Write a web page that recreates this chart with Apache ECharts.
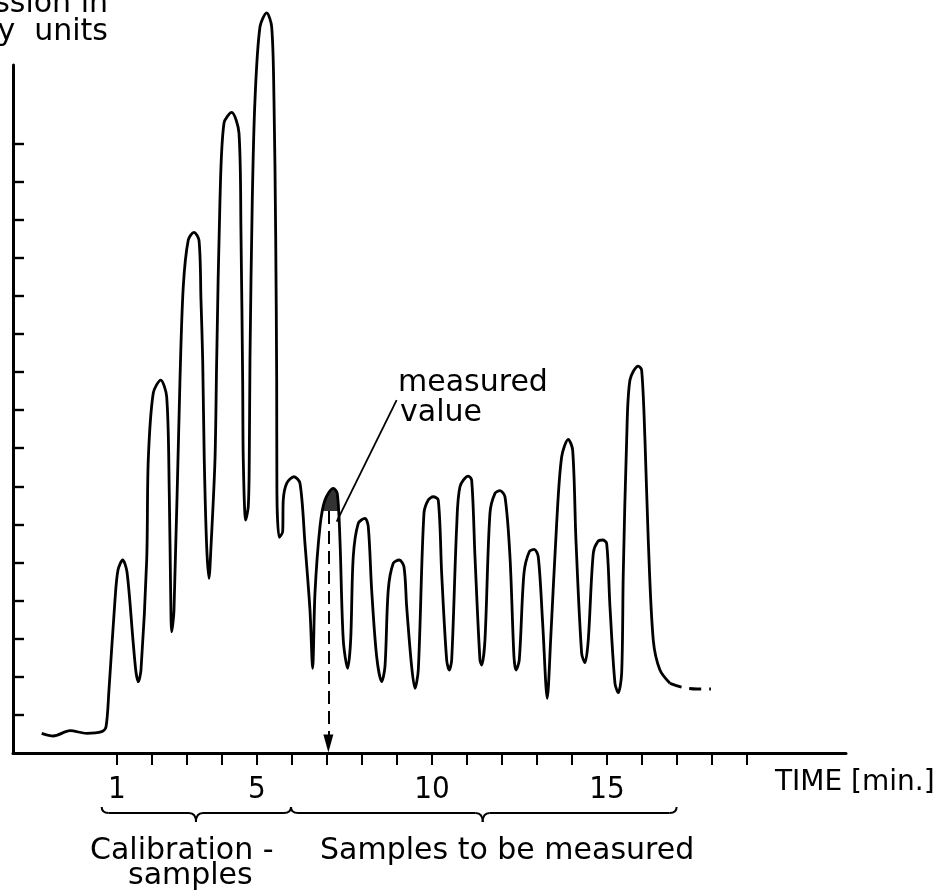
<!DOCTYPE html>
<html>
<head>
<meta charset="utf-8">
<title>Emission vs time</title>
<script src="https://cdn.jsdelivr.net/npm/echarts@6/dist/echarts.min.js"></script>
<style>
  html, body { margin: 0; padding: 0; background: #fff; }
  #main { width: 939px; height: 895px; }
</style>
</head>
<body>
<div id="main"></div>
<script>
// trace (time in min, emission in arbitrary units)
var traceTime = [
  -1.151, -0.820, -0.343, 0.134, 0.563, 0.686, 0.771, 0.943, 1.029, 1.163,
  1.286, 1.457, 1.543, 1.609, 1.686, 1.849, 1.894, 2.037, 2.249, 2.420,
  2.494, 2.534, 2.563, 2.629, 2.800, 2.894, 3.037, 3.200, 3.343, 3.400,
  3.449, 3.494, 3.563, 3.629, 3.686, 3.800, 3.849, 3.943, 4.057, 4.277,
  4.486, 4.543, 4.591, 4.609, 4.677, 4.751, 4.780, 4.800, 4.866, 4.943,
  5.086, 5.277, 5.420, 5.486, 5.534, 5.563, 5.570, 5.637, 5.734, 5.751,
  5.849, 6.057, 6.229, 6.371, 6.514, 6.591, 6.657, 6.800, 6.943, 7.180,
  7.294, 7.371, 7.466, 7.591, 7.677, 7.751, 7.894, 8.086, 8.180, 8.277,
  8.420, 8.563, 8.657, 8.751, 8.894, 9.066, 9.200, 9.277, 9.420, 9.514,
  9.609, 9.771, 9.894, 10.037, 10.180, 10.277, 10.420, 10.494, 10.563, 10.706,
  10.800, 11.037, 11.134, 11.229, 11.371, 11.420, 11.514, 11.657, 11.800, 11.943,
  12.086, 12.229, 12.343, 12.400, 12.494, 12.629, 12.780, 12.923, 13.037, 13.163,
  13.294, 13.391, 13.563, 13.706, 13.894, 14.020, 14.114, 14.277, 14.371, 14.466,
  14.609, 14.734, 14.877, 14.991, 15.086, 15.229, 15.323, 15.420, 15.466, 15.563,
  15.657, 15.894, 15.991, 16.086, 16.180, 16.323, 16.514, 16.800
];
var traceSignal = [
  0.517, 0.446, 0.585, 0.517, 0.559, 0.682, 1.654, 4.016, 4.803, 5.066,
  4.751, 2.966, 2.126, 1.871, 2.178, 5.066, 7.690, 9.449, 9.790, 9.352,
  6.824, 4.199, 3.184, 3.753, 9.790, 12.239, 13.465, 13.667, 13.465, 11.890,
  10.315, 7.690, 5.415, 4.585, 5.415, 7.690, 10.315, 14.514, 16.535, 16.816,
  16.273, 13.648, 9.790, 7.690, 6.115, 6.465, 7.690, 10.315, 14.514, 17.139,
  19.063, 19.430, 19.063, 17.139, 13.640, 9.790, 6.824, 5.661, 5.808, 6.640,
  7.079, 7.252, 7.079, 5.504, 3.753, 2.223, 4.192, 5.940, 6.640, 6.948,
  6.816, 5.591, 2.966, 2.223, 2.966, 5.152, 6.029, 6.160, 5.940, 4.278,
  2.528, 1.871, 2.265, 4.278, 4.979, 5.066, 4.890, 3.840, 2.265, 1.698,
  2.178, 6.291, 6.640, 6.727, 6.640, 4.717, 2.441, 2.178, 2.441, 5.940,
  6.990, 7.270, 7.165, 5.152, 2.441, 2.310, 2.966, 6.291, 6.816, 6.885,
  6.727, 5.152, 2.528, 2.178, 2.441, 4.717, 5.283, 5.346, 5.152, 3.404,
  1.436, 2.966, 6.029, 7.777, 8.234, 7.953, 5.591, 2.617, 2.370, 2.966,
  5.241, 5.546, 5.591, 5.504, 3.840, 1.829, 1.583, 2.092, 4.717, 8.215,
  9.790, 10.157, 10.052, 8.215, 5.591, 2.966, 2.178, 1.829
];
// dashed continuation after the last peak
var tailTime = [16.800, 17.171, 17.571, 17.971];
var tailSignal = [1.829, 1.719, 1.680, 1.680];

// shaded tip of the measured peak
var shadeTime = [6.886, 6.943, 7.030, 7.180, 7.294, 7.320];
var shadeSignal = [6.35, 6.64, 6.86, 6.948, 6.816, 6.35];

// dashed arrow down to the time axis, and the pointer from the label
var measuredTime = 7.04;
var measuredFrom = 6.35;
var pointerFrom = [8.99, 9.265];
var pointerTo = [7.277, 6.071];

// axes
var xMin = -1.971, xMax = 21.83;
var yMin = 0, yMax = 18.06;
var xTickValues = [1, 2, 3, 4, 5, 6, 7, 8, 9, 10, 11, 12, 13, 14, 15, 16, 17, 18, 19];
var xLabelValues = [1, 5, 10, 15];
var yTickValues = [1, 2, 3, 4, 5, 6, 7, 8, 9, 10, 11, 12, 13, 14, 15, 16];

// braces under the axis: [start, end, point]
var braceSpans = [[0.563, 5.971, 3.257], [5.971, 16.99, 11.449]];

var INK = '#000';
var FONT = "'DejaVu Sans', sans-serif";
var NUMFONT = "'Liberation Sans Narrow', 'DejaVu Sans Condensed', sans-serif";

function pairs(xs, ys) {
  var out = [];
  for (var i = 0; i < Math.min(xs.length, ys.length); i++) out.push([xs[i], ys[i]]);
  return out;
}

var myChart = echarts.init(document.getElementById('main'));

myChart.setOption({
  backgroundColor: '#fff',
  animation: false,
  grid: { left: 13, right: 93, top: 65, bottom: 142 },
  xAxis: {
    type: 'value', min: xMin, max: xMax,
    splitLine: { show: false },
    axisLine: { onZero: false, lineStyle: { color: INK, width: 3 } },
    axisTick: { show: true, customValues: xTickValues, length: 12, lineStyle: { color: INK, width: 2 } },
    axisLabel: { customValues: xLabelValues, margin: 21, color: INK, fontFamily: NUMFONT, fontSize: 31 }
  },
  yAxis: {
    type: 'value', min: yMin, max: yMax,
    splitLine: { show: false },
    axisLine: { show: true, onZero: false, lineStyle: { color: INK, width: 3 } },
    axisTick: { show: true, inside: true, customValues: yTickValues, length: 11, lineStyle: { color: INK, width: 2.4 } },
    axisLabel: { show: false }
  },
  series: [
    {
      name: 'trace',
      type: 'line',
      data: pairs(traceTime, traceSignal),
      symbol: 'none',
      smooth: 0.3,
      clip: false,
      lineStyle: { color: INK, width: 2.8 },
      markLine: {
        silent: true,
        animation: false,
        label: { show: false },
        data: [
          [
            { coord: [measuredTime, measuredFrom], symbol: 'none',
              lineStyle: { color: INK, width: 2, type: [13, 7] } },
            { coord: [measuredTime, 0.25], symbol: 'triangle', symbolSize: [10, 18] }
          ],
          [
            { coord: pointerFrom, symbol: 'none', lineStyle: { color: INK, width: 1.8, type: 'solid' } },
            { coord: pointerTo, symbol: 'none' }
          ]
        ],
        itemStyle: { color: '#333' }
      }
    },
    {
      name: 'tail',
      type: 'line',
      data: pairs(tailTime, tailSignal),
      symbol: 'none',
      smooth: 0.3,
      clip: false,
      lineStyle: { color: INK, width: 2.8, type: [12, 8] }
    },
    {
      name: 'shade',
      type: 'custom',
      clip: false,
      data: [[shadeTime[0], shadeSignal[0]]],
      renderItem: function (params, api) {
        var pts = shadeTime.map(function (t, i) { return api.coord([t, shadeSignal[i]]); });
        return { type: 'polygon', shape: { points: pts }, style: { fill: '#333' } };
      }
    },
    {
      name: 'braces',
      type: 'custom',
      clip: false,
      data: braceSpans,
      renderItem: function (params, api) {
        var p0 = api.coord([api.value(0), 0]);
        var x0 = p0[0], x1 = api.coord([api.value(1), 0])[0], xm = api.coord([api.value(2), 0])[0];
        var yTop = p0[1] + 54, yMid = p0[1] + 60, yCusp = p0[1] + 69;
        var st = { stroke: INK, fill: null, lineWidth: 2 };
        return {
          type: 'group',
          children: [
            { type: 'bezierCurve', shape: { x1: x0, y1: yTop, cpx1: x0, cpy1: yMid, x2: x0 + 7, y2: yMid }, style: st },
            { type: 'line', shape: { x1: x0 + 7, y1: yMid, x2: xm - 7, y2: yMid }, style: st },
            { type: 'bezierCurve', shape: { x1: xm - 7, y1: yMid, cpx1: xm, cpy1: yMid, x2: xm, y2: yCusp }, style: st },
            { type: 'bezierCurve', shape: { x1: xm, y1: yCusp, cpx1: xm, cpy1: yMid, x2: xm + 7, y2: yMid }, style: st },
            { type: 'line', shape: { x1: xm + 7, y1: yMid, x2: x1 - 7, y2: yMid }, style: st },
            { type: 'bezierCurve', shape: { x1: x1 - 7, y1: yMid, cpx1: x1, cpy1: yMid, x2: x1, y2: yTop }, style: st }
          ]
        };
      }
    }
  ],
  graphic: [
    { type: 'text', x: 108, y: 4, style: { text: 'Emission in', align: 'right', verticalAlign: 'middle', fontSize: 30, fontFamily: FONT, fill: INK } },
    { type: 'text', x: 108, y: 32, style: { text: 'arbitrary  units', align: 'right', verticalAlign: 'middle', fontSize: 30, fontFamily: FONT, fill: INK } },
    { type: 'text', x: 398, y: 383, style: { text: 'measured', verticalAlign: 'middle', fontSize: 30, fontFamily: FONT, fill: INK } },
    { type: 'text', x: 400, y: 413, style: { text: 'value', verticalAlign: 'middle', fontSize: 30, fontFamily: FONT, fill: INK } },
    { type: 'text', x: 775, y: 783, style: { text: 'TIME [min.]', verticalAlign: 'middle', fontSize: 28, fontFamily: FONT, fill: INK } },
    { type: 'text', x: 90, y: 851, style: { text: 'Calibration -', verticalAlign: 'middle', fontSize: 30, fontFamily: FONT, fill: INK } },
    { type: 'text', x: 128, y: 876, style: { text: 'samples', verticalAlign: 'middle', fontSize: 30, fontFamily: FONT, fill: INK } },
    { type: 'text', x: 320, y: 851, style: { text: 'Samples to be measured', verticalAlign: 'middle', fontSize: 30, fontFamily: FONT, fill: INK } }
  ]
});
</script>
</body>
</html>
